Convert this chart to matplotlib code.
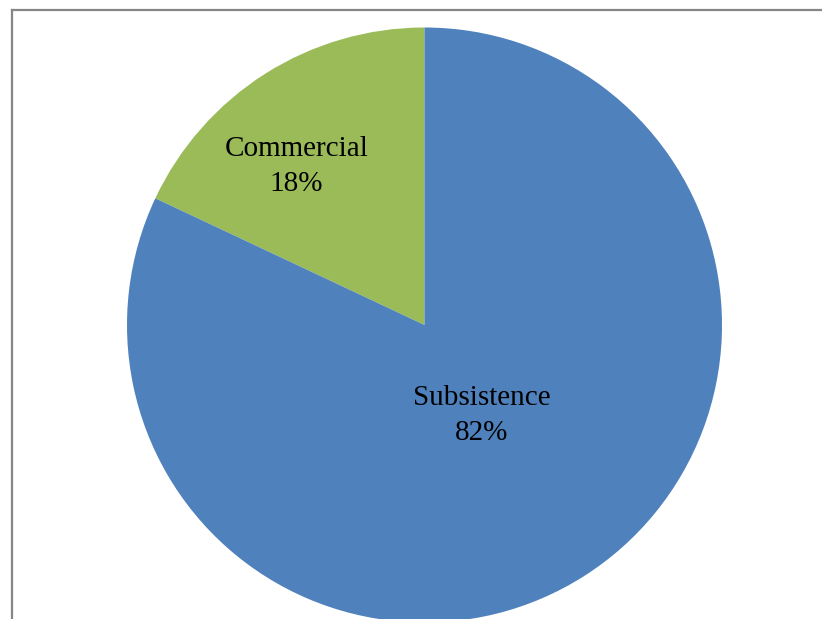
import numpy as np
import matplotlib.pyplot as plt
from matplotlib.lines import Line2D

labels = ['Commercial', 'Subsistence']
values = [18, 82]
colors = ['#9BBB59', '#4F81BD']
label_dist = [0.685, 0.36]  # fraction of radius for each label

W, H = 822, 619
fig = plt.figure(figsize=(W / 100, H / 100), dpi=100)
ax = fig.add_axes([0, 0, 1, 1])

cx, cy, r = 424.5, H - 325, 297.5
wedges, _ = ax.pie(values, colors=colors, startangle=90, counterclock=True,
                   center=(cx, cy), radius=r, frame=True,
                   wedgeprops=dict(linewidth=0))
ax.set_xlim(0, W)
ax.set_ylim(0, H)
ax.set_aspect('equal')
ax.axis('off')

for w, lab, v, d in zip(wedges, labels, values, label_dist):
    ang = np.deg2rad((w.theta1 + w.theta2) / 2)
    if lab == 'Commercial':
        ang += np.deg2rad(6.5)
    x = cx + r * d * np.cos(ang)
    y = cy + r * d * np.sin(ang)
    ax.text(x, y, '%s\n%d%%' % (lab, v), ha='center', va='center',
            fontsize=21, family='Liberation Serif', linespacing=1.45)

# chart frame (only top and left visible)
fig.add_artist(Line2D([11.5 / W, 11.5 / W], [0, 1 - 9.5 / H], transform=fig.transFigure,
                      color='#868686', lw=1.6))
fig.add_artist(Line2D([11.5 / W, 1], [1 - 9.5 / H, 1 - 9.5 / H], transform=fig.transFigure,
                      color='#868686', lw=1.6))

fig.savefig('out.png', dpi=100)
